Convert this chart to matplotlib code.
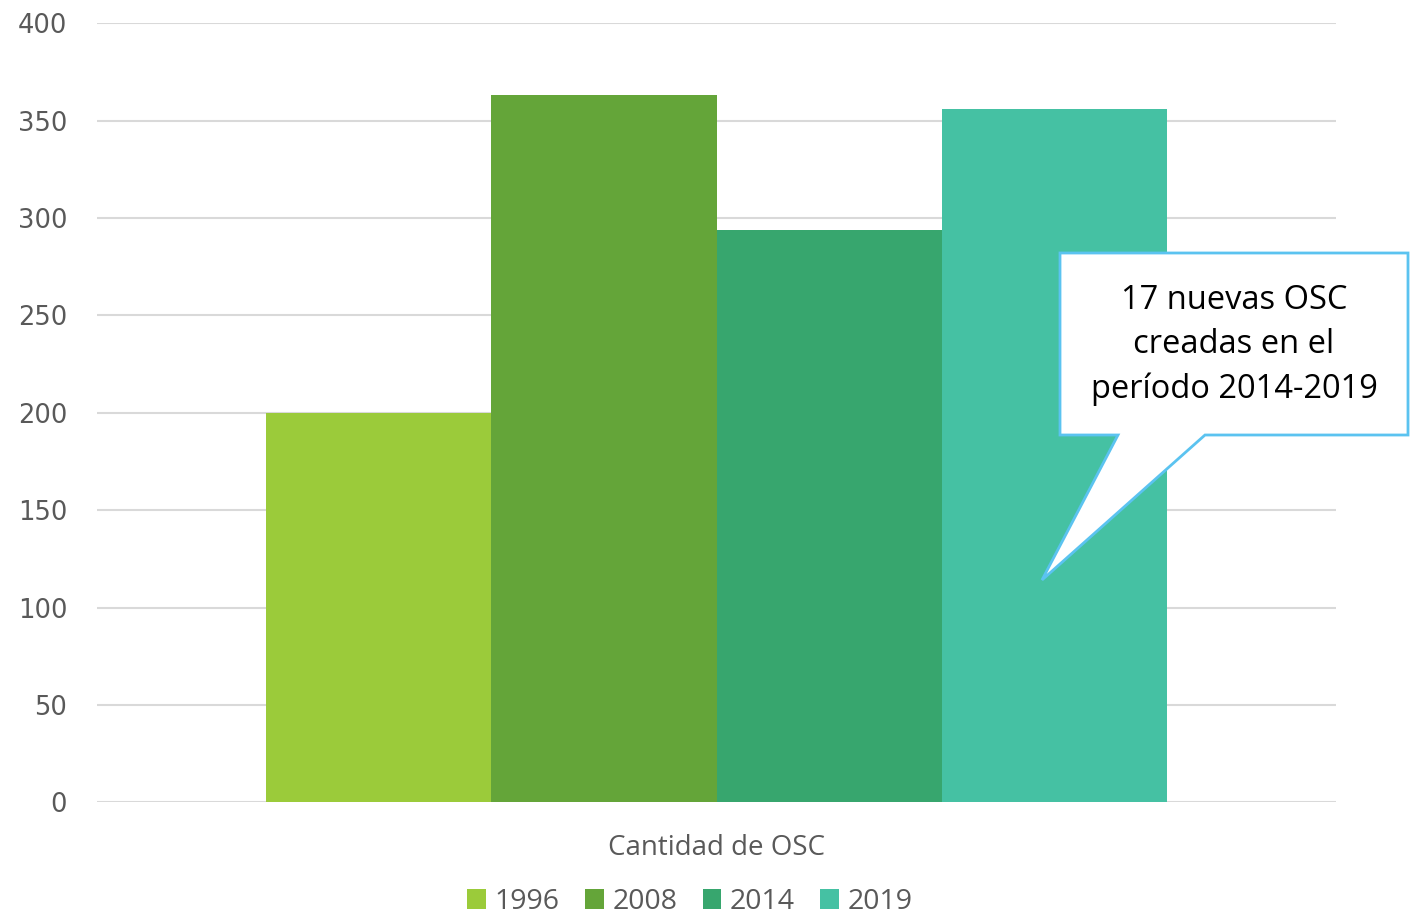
import matplotlib
matplotlib.use("Agg")
import matplotlib.pyplot as plt
from matplotlib.patches import Polygon, Patch
import numpy as np

categories = ["Cantidad de OSC"]
series_names = ["1996", "2008", "2014", "2019"]
values = [200, 363, 294, 356]
colors = ["#9BCB3A", "#64A539", "#37A66E", "#45C1A3"]
yticks = [0, 50, 100, 150, 200, 250, 300, 350, 400]
callout_text = "17 nuevas OSC\ncreadas en el\nperíodo 2014-2019"

W, H = 1412, 919
fig = plt.figure(figsize=(W / 100, H / 100), dpi=100)
ax = fig.add_axes([97 / W, (H - 802.3) / H, (1336 - 97) / W, (802.3 - 23.3) / H])

tick_font = "DejaVu Sans"
text_color = "#595959"

n = len(series_names)
group_w = 901 / 1239
bw = group_w / n
x0 = 0
for i, (name, v, c) in enumerate(zip(series_names, values, colors)):
    xpos = x0 - group_w / 2 + bw * (i + 0.5)
    ax.bar(xpos, v, width=bw, color=c, zorder=3, label=name)

ax.set_xlim(-0.5, 0.5)
ax.set_ylim(0, 400)
ax.set_yticks(yticks)
ax.set_yticklabels([str(t) for t in yticks], fontsize=18.5, color=text_color, family=tick_font)
ax.set_xticks([0])
ax.set_xticklabels(categories, fontsize=20, color=text_color, family="Open Sans")
ax.tick_params(axis="x", length=0, pad=22.5)
ax.tick_params(axis="y", length=0, pad=21.5)
ax.grid(axis="y", color="#D9D9D9", linewidth=1.5, zorder=0)
for s in ax.spines.values():
    s.set_visible(False)

handles = [Patch(facecolor=c, edgecolor="none") for c in colors]
leg = fig.legend(handles, series_names, loc="center", bbox_to_anchor=(690 / W, 1 - 902 / H),
                 ncol=4, frameon=False, fontsize=20.5, handlelength=0.65, handleheight=0.65,
                 handletextpad=0.3, columnspacing=0.9, borderpad=0)
for t in leg.get_texts():
    t.set_color(text_color)
    t.set_family("Open Sans")

# callout (figure pixel coordinates -> fractions)
pts = [(1060, 253), (1408, 253), (1408, 435), (1205, 435), (1042, 580), (1118, 435), (1060, 435)]
poly = Polygon([(x / W, 1 - y / H) for x, y in pts], closed=True, transform=fig.transFigure,
               facecolor="white", edgecolor="#5BC3F0", linewidth=2, zorder=10)
fig.patches.append(poly)
fig.text(1234 / W, 1 - 345 / H, callout_text, ha="center", va="center", fontsize=23.5,
         family="Open Sans", color="black", linespacing=1.43, zorder=11)

fig.savefig("out.png", dpi=100, facecolor="white")
